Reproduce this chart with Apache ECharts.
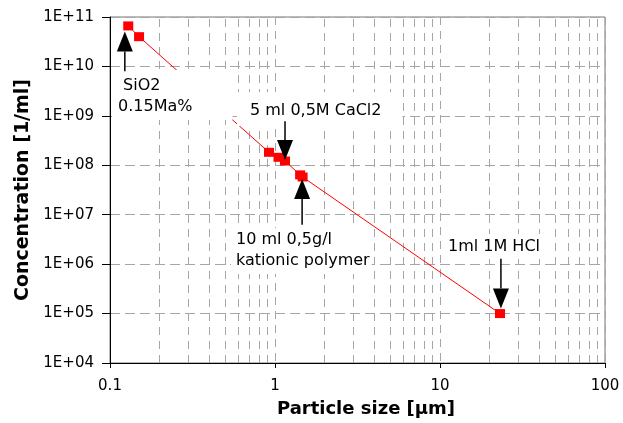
<!DOCTYPE html>
<html>
<head>
<meta charset="utf-8">
<script src="https://cdn.jsdelivr.net/npm/echarts@6/dist/echarts.min.js"></script>
<style>
  html, body { margin: 0; padding: 0; background: #fff; }
  #chart { width: 623px; height: 423px; }
</style>
</head>
<body>
<div id="chart"></div>
<script>
// particle size [µm] vs concentration [1/ml]
const sizes = [0.129, 0.150, 0.92, 1.05, 1.15, 1.42, 1.47, 23.1];
const concentrations = [6.6e10, 4.0e10, 1.83e8, 1.45e8, 1.22e8, 6.4e7, 5.8e7, 1.0e5];

// minor vertical grid lines (2..9 in every decade)
const minorGridX = [0.2, 0.3, 0.4, 0.5, 0.6, 0.7, 0.8, 0.9,
  2, 3, 4, 5, 6, 7, 8, 9,
  20, 30, 40, 50, 60, 70, 80, 90];

// annotation arrows, in data units: x, tip y, tail y
const arrowX = [0.123, 1.15, 1.46, 23.4];
const arrowTip = [5.1e10, 1.28e8, 5.3e7, 1.27e5];
const arrowTail = [8e9, 7.8e8, 6.25e6, 1.29e6];

const font = 'DejaVu Sans';

const dom = document.getElementById('chart');
const chart = echarts.init(dom, null, { renderer: 'canvas' });

const option = {
  animation: false,
  backgroundColor: '#fff',
  grid: {
    left: 110, right: 18, top: 17, bottom: 59,
    show: true, borderColor: '#777', borderWidth: 1
  },
  xAxis: {
    type: 'log', logBase: 10, min: 0.1, max: 100,
    name: 'Particle size [µm]',
    nameLocation: 'middle', nameGap: 37,
    nameTextStyle: { fontFamily: font, fontSize: 18, fontWeight: 'bold', color: '#000', padding: [0, 0, 0, 17] },
    axisLine: { onZero: false, lineStyle: { color: '#000', width: 1 } },
    axisTick: { show: true, inside: false, length: 5, lineStyle: { color: '#000' } },
    axisLabel: {
      fontFamily: font, fontSize: 15, color: '#000', margin: 16,
      formatter: function (v) { return String(+v.toPrecision(3)); }
    },
    splitLine: { show: true, lineStyle: { color: '#a6a6a6', type: [8, 6], width: 1 } },
    minorTick: { show: false }
  },
  yAxis: {
    type: 'log', logBase: 10, min: 1e4, max: 1e11,
    name: 'Concentration [1/ml]',
    nameLocation: 'middle', nameGap: 72,
    nameTextStyle: { fontFamily: font, fontSize: 19, fontWeight: 'bold', color: '#000' },
    axisLine: { onZero: false, lineStyle: { color: '#000', width: 1 } },
    axisTick: { show: true, inside: false, length: 8, lineStyle: { color: '#000' } },
    axisLabel: {
      fontFamily: font, fontSize: 15, color: '#000', margin: 16,
      formatter: function (v) {
        const e = Math.round(Math.log10(v));
        return '1E+' + (e < 10 ? '0' + e : e);
      }
    },
    splitLine: { show: true, lineStyle: { color: '#a6a6a6', type: [10, 5], width: 1 } }
  },
  series: [
    {
      type: 'line',
      data: sizes.map((s, i) => [s, concentrations[i]]),
      symbol: 'rect',
      symbolSize: [10, 9],
      showSymbol: true,
      lineStyle: { color: '#ff0000', width: 1 },
      itemStyle: { color: '#ff0000' },
      z: 5,
      markLine: {
        silent: true,
        symbol: ['none', 'none'],
        label: { show: false },
        lineStyle: { color: '#a6a6a6', type: [8, 6], width: 1 },
        z: 1,
        data: minorGridX.map(v => ({ xAxis: v }))
      }
    }
  ]
};

chart.setOption(option);

// text boxes (white filled, like the original chart's callouts)
const boxStyle = { fontFamily: font, fontSize: 16, fill: '#000', backgroundColor: '#fff', lineHeight: 21 };
const graphics = [
  { type: 'text', left: 112, top: 70, z: 100,
    style: Object.assign({}, boxStyle, { text: ' SiO2\n0.15Ma%', padding: [5, 40, 3, 6] }) },
  { type: 'text', left: 237, top: 92, z: 100,
    style: Object.assign({}, boxStyle, { text: '5 ml 0,5M CaCl2', padding: [8, 21, 5, 13] }) },
  { type: 'text', left: 231, top: 228, z: 100,
    style: Object.assign({}, boxStyle, { text: '10 ml 0,5g/l\nkationic polymer', padding: [1, 2, 3, 5] }) },
  { type: 'text', left: 444, top: 234, z: 100,
    style: Object.assign({}, boxStyle, { text: '1ml 1M HCl', padding: [2, 4, 2, 4] }) }
];

// arrows
const headW = 16, headL = 20;
arrowX.forEach((x, i) => {
  const tip = chart.convertToPixel({ gridIndex: 0 }, [x, arrowTip[i]]);
  const tail = chart.convertToPixel({ gridIndex: 0 }, [x, arrowTail[i]]);
  const dir = tail[1] > tip[1] ? 1 : -1;
  const baseY = tip[1] + dir * headL;
  graphics.push({
    type: 'line', z: 110, silent: true,
    shape: { x1: tail[0], y1: tail[1], x2: tip[0], y2: baseY },
    style: { stroke: '#000', lineWidth: 1.5 }
  });
  graphics.push({
    type: 'polygon', z: 110, silent: true,
    shape: { points: [[tip[0], tip[1]], [tip[0] - headW / 2, baseY], [tip[0] + headW / 2, baseY]] },
    style: { fill: '#000' }
  });
});

chart.setOption({ graphic: graphics });
</script>
</body>
</html>
